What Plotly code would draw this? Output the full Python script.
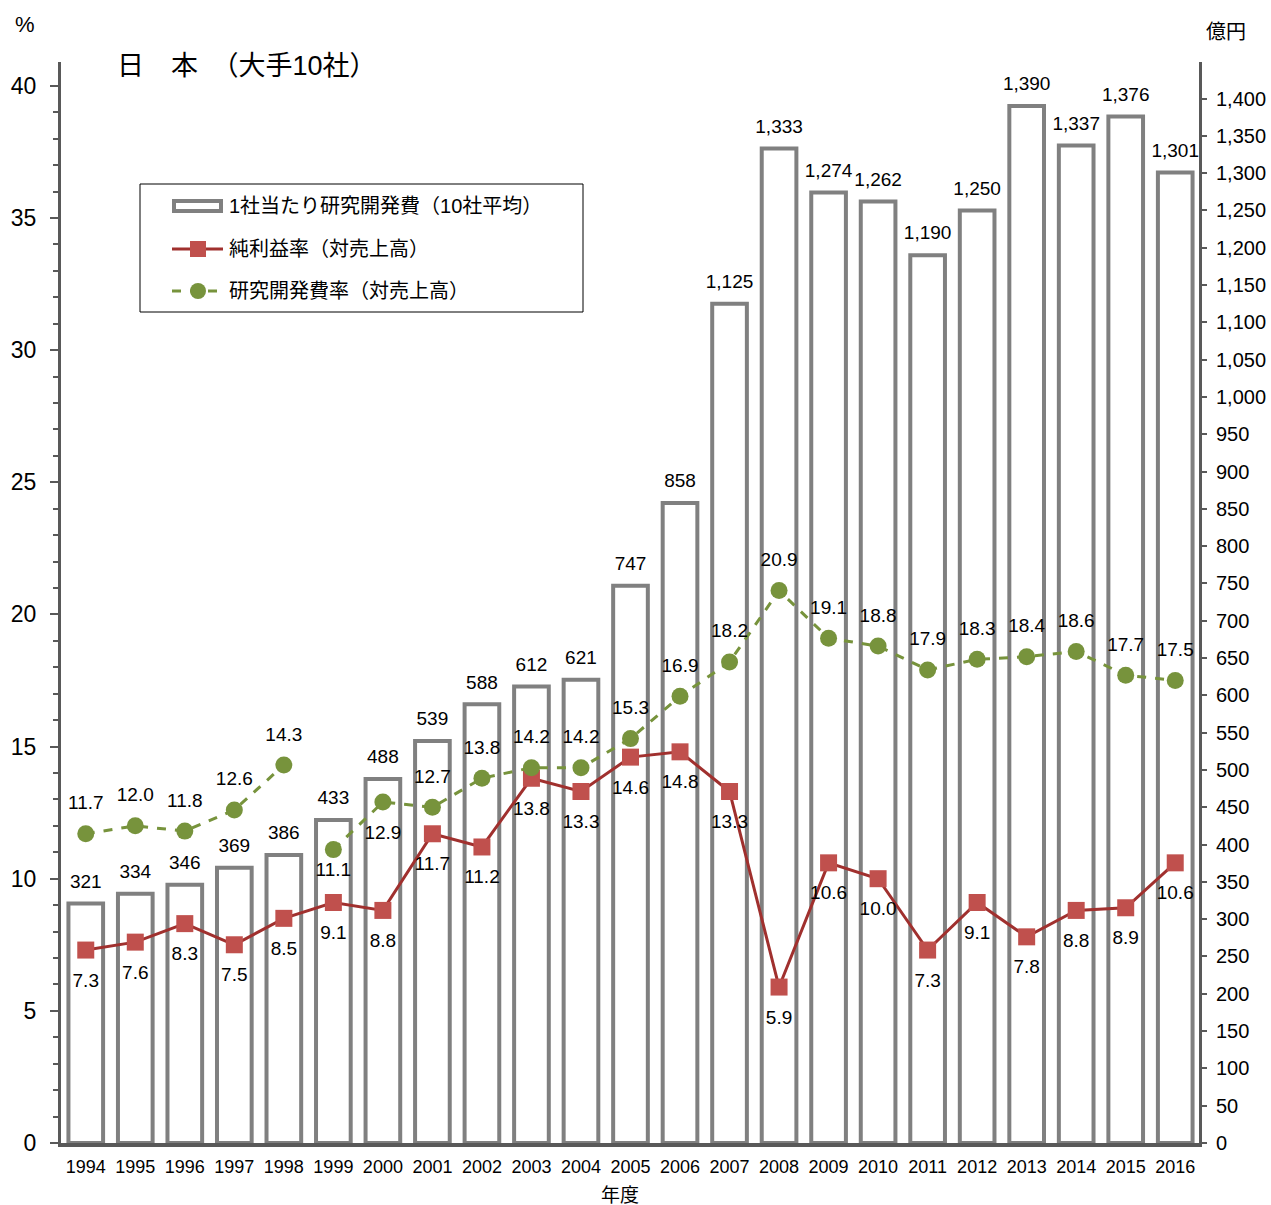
import plotly.graph_objects as go

# Fiscal years
years = list(range(1994, 2017))

# R&D expenditure per company (average of 10 companies), 100 million yen
rd_cost = [321, 334, 346, 369, 386, 433, 488, 539, 588, 612, 621, 747, 858,
           1125, 1333, 1274, 1262, 1190, 1250, 1390, 1337, 1376, 1301]

# Net profit ratio (to sales), %
net_margin = [7.3, 7.6, 8.3, 7.5, 8.5, 9.1, 8.8, 11.7, 11.2, 13.8, 13.3, 14.6,
              14.8, 13.3, 5.9, 10.6, 10.0, 7.3, 9.1, 7.8, 8.8, 8.9, 10.6]

# R&D expenditure ratio (to sales), %
rd_ratio = [11.7, 12.0, 11.8, 12.6, 14.3, 11.1, 12.9, 12.7, 13.8, 14.2, 14.2,
            15.3, 16.9, 18.2, 20.9, 19.1, 18.8, 17.9, 18.3, 18.4, 18.6, 17.7, 17.5]

# Legend / series names
name_bar = "1社当たり研究開発費（10社平均）"
name_net = "純利益率（対売上高）"
name_rd = "研究開発費率（対売上高）"

# The R&D ratio series is not continuous between 1998 and 1999
break_after = 1998

FONT = "Liberation Sans, Arial, Noto Sans CJK JP, sans-serif"
AXIS = "#595959"
BAR_EDGE = "#808080"
RED = "#C0504D"
RED_LINE = "#A0302E"
GREEN = "#77933C"
LABEL_SIZE = 19

# Figure geometry (pixels)
W, H = 1271, 1205
ML, MR, MT, MB = 61, 72, 62, 62
plot_w = W - ML - MR
plot_h = H - MT - MB


def px(xp, yp):
    """Pixel position -> paper coordinates."""
    return (xp - ML) / plot_w, (H - MB - yp) / plot_h


# Green series with a gap inserted at the break
gx, gy = [], []
for yr, v in zip(years, rd_ratio):
    gx.append(yr)
    gy.append(v)
    if yr == break_after:
        gx.append(yr + 0.5)
        gy.append(None)

fig = go.Figure()

fig.add_trace(go.Bar(
    x=years, y=rd_cost, yaxis="y", width=0.7, name=name_bar,
    marker=dict(color="white", line=dict(color=BAR_EDGE, width=4)),
    showlegend=False, hoverinfo="skip",
))
# Value labels above the bars
fig.add_trace(go.Scatter(
    x=years, y=rd_cost, yaxis="y", mode="markers+text",
    marker=dict(size=16, opacity=0), showlegend=False, hoverinfo="skip",
    text=[f"{v:,}" for v in rd_cost], textposition="top center",
    textfont=dict(size=LABEL_SIZE, color="black", family=FONT),
    cliponaxis=False,
))

fig.add_trace(go.Scatter(
    x=years, y=net_margin, yaxis="y2", mode="lines+markers", name=name_net,
    line=dict(color=RED_LINE, width=3),
    marker=dict(symbol="square", size=17, color=RED, line=dict(width=0)),
    showlegend=False, cliponaxis=False,
))
fig.add_trace(go.Scatter(
    x=gx, y=gy, yaxis="y2", mode="lines+markers", name=name_rd,
    connectgaps=False,
    line=dict(color=GREEN, width=3, dash="dash"),
    marker=dict(symbol="circle", size=17, color=GREEN),
    showlegend=False, cliponaxis=False,
))

# Value labels for the percentage series
fig.add_trace(go.Scatter(
    x=years, y=net_margin, yaxis="y2", mode="markers+text",
    marker=dict(size=34, opacity=0), showlegend=False, hoverinfo="skip",
    text=[f"{v:.1f}" for v in net_margin], textposition="bottom center",
    textfont=dict(size=LABEL_SIZE, color="black", family=FONT),
    cliponaxis=False,
))
g_below = {1999: 18, 2000: 34}
fig.add_trace(go.Scatter(
    x=years, y=rd_ratio, yaxis="y2", mode="markers+text",
    marker=dict(size=[g_below.get(y, 30) for y in years], opacity=0),
    showlegend=False, hoverinfo="skip",
    text=[f"{v:.1f}" for v in rd_ratio],
    textposition=["bottom center" if y in g_below else "top center" for y in years],
    textfont=dict(size=LABEL_SIZE, color="black", family=FONT),
    cliponaxis=False,
))

# Legend drawn as a framed box with sample marks
shapes = []
annotations = []


def rect(x0, y0, x1, y1, **kw):
    a0, b0 = px(x0, y0)
    a1, b1 = px(x1, y1)
    shapes.append(dict(type="rect", xref="paper", yref="paper",
                       x0=a0, y0=b0, x1=a1, y1=b1, **kw))


def seg(x0, y0, x1, y1, **kw):
    a0, b0 = px(x0, y0)
    a1, b1 = px(x1, y1)
    shapes.append(dict(type="line", xref="paper", yref="paper",
                       x0=a0, y0=b0, x1=a1, y1=b1, **kw))


def text(t, xp, yp, size, anchor="center"):
    a, b = px(xp, yp)
    annotations.append(dict(text=t, x=a, y=b, xref="paper", yref="paper",
                            xanchor=anchor, yanchor="middle", showarrow=False,
                            font=dict(size=size, family=FONT, color="black")))


rect(140, 184, 583, 312, line=dict(color="black", width=1), fillcolor="white",
     layer="above")
rect(174, 201, 221, 211, line=dict(color=BAR_EDGE, width=4), fillcolor="white",
     layer="above")
seg(172, 249, 223, 249, line=dict(color=RED_LINE, width=3), layer="above")
rect(190, 241, 206, 257, line=dict(width=0), fillcolor=RED, layer="above")
seg(172, 291, 223, 291, line=dict(color=GREEN, width=3, dash="dash"),
    layer="above")
cx0, cy0 = px(190, 283)
cx1, cy1 = px(206, 299)
shapes.append(dict(type="circle", xref="paper", yref="paper", x0=cx0, y0=cy0,
                   x1=cx1, y1=cy1, line=dict(width=0), fillcolor=GREEN,
                   layer="above"))
text(name_bar, 227, 206, 20, "left")
text(name_net, 227, 249, 20, "left")
text(name_rd, 227, 291, 20, "left")

# Title and axis captions
text("日　本　（大手10社）", 115, 66, 27, "left")
text("%", 25, 24, 22)
text("億円", 1226, 32, 20)
text("年度", 620, 1195, 19)

fig.update_layout(
    width=W, height=H,
    margin=dict(l=ML, r=MR, t=MT, b=MB),
    plot_bgcolor="white", paper_bgcolor="white",
    font=dict(family=FONT, size=17, color="black"),
    showlegend=False,
    xaxis=dict(
        range=[1993.5, 2016.48], tickmode="array", tickvals=years,
        ticktext=[str(y) for y in years], ticks="", showgrid=False,
        showline=True, linecolor=AXIS, linewidth=4, automargin=False,
        tickfont=dict(size=18), zeroline=False, ticklabelstandoff=4,
    ),
    yaxis=dict(
        side="right", range=[0, 1449], dtick=50, tickformat=",d",
        showgrid=False, zeroline=False, showline=True, linecolor=AXIS,
        linewidth=3, ticks="outside", ticklen=5, tickcolor=AXIS, tickwidth=2,
        tickfont=dict(size=20), ticklabelstandoff=5, automargin=False,
    ),
    yaxis2=dict(
        side="left", overlaying="y", range=[0, 40.9], dtick=5,
        showgrid=False, zeroline=False, showline=True, linecolor=AXIS,
        linewidth=3, ticks="outside", ticklen=8, tickcolor=AXIS, tickwidth=2,
        tickfont=dict(size=23), ticklabelstandoff=9, automargin=False,
        minor=dict(dtick=1, ticks="outside", ticklen=5, tickcolor=AXIS,
                   tickwidth=2, showgrid=False),
    ),
    shapes=shapes,
    annotations=annotations,
)

fig.write_html("out.html")
